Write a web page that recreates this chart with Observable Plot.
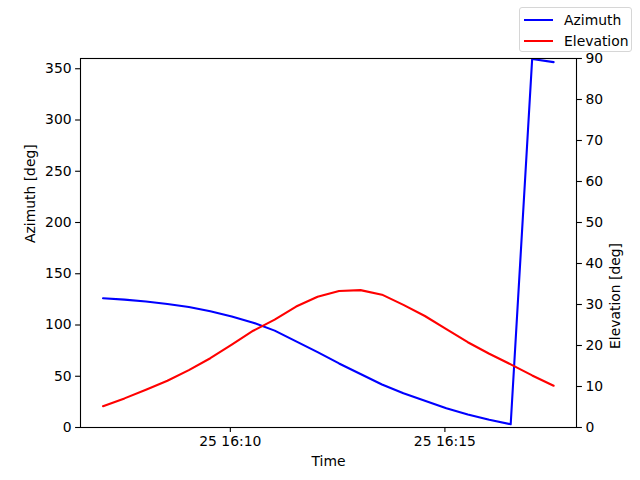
<!DOCTYPE html>
<html>
<head>
<meta charset="utf-8">
<script src="https://cdn.jsdelivr.net/npm/d3@7"></script>
<script src="https://cdn.jsdelivr.net/npm/@observablehq/plot@0.6"></script>
<style>
  html, body { margin: 0; padding: 0; background: white; }
  #wrap { position: relative; width: 640px; height: 480px; font-family: "DejaVu Sans", sans-serif; }
  #wrap > svg { position: absolute; left: 0; top: 0; }
  #legend { position: absolute; left: 519px; top: 7px; width: 113px; height: 45px; box-sizing: border-box;
    border: 1px solid #d6d6d6; border-radius: 3px; background: rgba(255,255,255,0.8); font-size: 13.9px; color: #000; }
  .item { position: absolute; left: 4px; height: 16px; display: flex; align-items: center; }
  .item .ln { width: 29px; height: 2px; margin-right: 11px; }
</style>
</head>
<body>
<div id="wrap"></div>
<script>
const day = "2024-05-25";
const times = ["16:07:02","16:07:32","16:08:02","16:08:32","16:09:02","16:09:32","16:10:02","16:10:32",
  "16:11:02","16:11:32","16:12:02","16:12:32","16:13:02","16:13:32","16:14:02","16:14:32",
  "16:15:02","16:15:32","16:16:02","16:16:32","16:17:02","16:17:32"];
const azimuth = [126.1, 124.8, 123.0, 120.5, 117.5, 113.5, 108.3, 102.3, 94.5, 84.0, 73.5, 62.5,
  52.2, 42.0, 33.4, 26.2, 18.8, 12.6, 7.6, 3.2, 359.5, 356.5];
const elevation = [5.2, 7.1, 9.2, 11.4, 14.0, 16.9, 20.2, 23.6, 26.3, 29.5, 31.9, 33.3,
  33.5, 32.4, 29.9, 27.2, 24.0, 20.8, 18.0, 15.4, 12.7, 10.2];
const xDomainTimes = ["16:06:30.5", "16:18:04"];
const xTicks = ["16:10:00", "16:15:00"];
const azTicks = [0, 50, 100, 150, 200, 250, 300, 350];
const elTicks = [0, 10, 20, 30, 40, 50, 60, 70, 80, 90];

const toDate = t => new Date(`${day}T${t}Z`);
const azData = times.map((t, i) => ({time: toDate(t), value: azimuth[i]}));
const elData = times.map((t, i) => ({time: toDate(t), value: elevation[i]}));
const fmt = d3.utcFormat("%d %H:%M");

const common = {
  width: 640, height: 480,
  marginLeft: 80, marginRight: 64, marginTop: 58, marginBottom: 53,
  x: {type: "utc", domain: xDomainTimes.map(toDate)},
  style: {fontFamily: "DejaVu Sans, sans-serif", fontSize: "13.9px", color: "black", background: "transparent", overflow: "visible"}
};

const p1 = Plot.plot({
  ...common,
  y: {domain: [0, 360]},
  marks: [
    Plot.axisY({ticks: azTicks, tickSize: 4.9, tickPadding: 4, label: null, strokeWidth: 1.1}),
    Plot.axisX({ticks: xTicks.map(toDate), tickFormat: fmt, tickSize: 4.9, tickPadding: 4, label: null, strokeWidth: 1.1}),
    Plot.line(azData, {x: "time", y: "value", stroke: "#0000ff", strokeWidth: 2.1}),
    Plot.text(["Azimuth [deg]"], {frameAnchor: "left", dx: -50, rotate: -90, fontSize: 13.9}),
    Plot.text(["Time"], {frameAnchor: "bottom", dy: 38, fontSize: 13.9})
  ]
});

const p2 = Plot.plot({
  ...common,
  y: {domain: [0, 90]},
  marks: [
    Plot.axisY({anchor: "right", ticks: elTicks, tickSize: 4.9, tickPadding: 4, label: null, strokeWidth: 1.1}),
    Plot.axisX({ticks: [], label: null}),
    Plot.line(elData, {x: "time", y: "value", stroke: "#ff0000", strokeWidth: 2.1}),
    Plot.frame({stroke: "black", strokeWidth: 1.1}),
    Plot.text(["Elevation [deg]"], {frameAnchor: "right", dx: 39, rotate: -90, fontSize: 13.9})
  ]
});

const wrap = document.getElementById("wrap");
wrap.appendChild(p1);
wrap.appendChild(p2);

const legend = document.createElement("div");
legend.id = "legend";
legend.innerHTML = `
  <div class="item" style="top:4px"><div class="ln" style="background:#0000ff"></div><span>Azimuth</span></div>
  <div class="item" style="top:25px"><div class="ln" style="background:#ff0000"></div><span>Elevation</span></div>`;
wrap.appendChild(legend);
</script>
</body>
</html>
